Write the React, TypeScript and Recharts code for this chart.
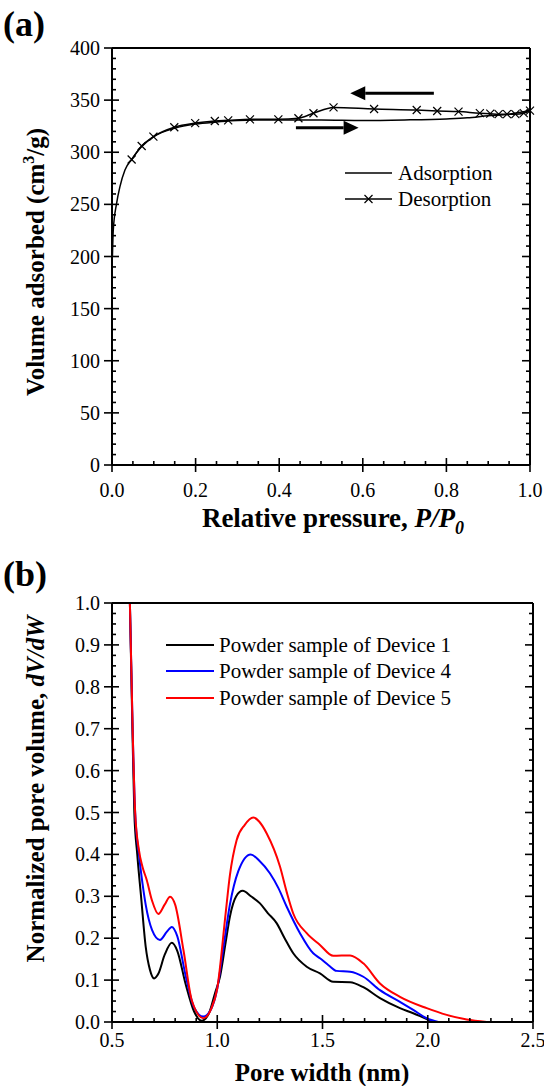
import React from 'react';
import { LineChart, Line, XAxis, YAxis, Legend, ReferenceLine } from 'recharts';

const FONT = "'Liberation Serif', 'Times New Roman', serif";

// ---- (a) N2 isotherm ----
const pressureTicks = [0, 0.2, 0.4, 0.6, 0.8, 1.0];
const volumeTicks = [0, 50, 100, 150, 200, 250, 300, 350, 400];

const adsorption = [
  { p: 0.001, v: 200 }, { p: 0.003, v: 225 }, { p: 0.011, v: 251 }, { p: 0.019, v: 267 },
  { p: 0.031, v: 283 }, { p: 0.047, v: 293 }, { p: 0.07, v: 305 }, { p: 0.1, v: 315 },
  { p: 0.15, v: 323 }, { p: 0.2, v: 327 }, { p: 0.25, v: 329 }, { p: 0.3, v: 330.5 },
  { p: 0.4, v: 331 }, { p: 0.5, v: 331 }, { p: 0.6, v: 330.5 }, { p: 0.7, v: 331 },
  { p: 0.8, v: 332 }, { p: 0.85, v: 333 }, { p: 0.9, v: 335 }, { p: 0.95, v: 336.5 },
  { p: 1.0, v: 340 },
];

const desorption = [
  { p: 0.047, v: 293 }, { p: 0.071, v: 306 }, { p: 0.099, v: 315 }, { p: 0.149, v: 324 },
  { p: 0.199, v: 328 }, { p: 0.246, v: 330 }, { p: 0.278, v: 330.6 }, { p: 0.33, v: 331.6 },
  { p: 0.398, v: 331.6 }, { p: 0.446, v: 332.6 }, { p: 0.482, v: 337.4 }, { p: 0.53, v: 343 },
  { p: 0.627, v: 341.5 }, { p: 0.729, v: 340.5 }, { p: 0.778, v: 339.6 }, { p: 0.829, v: 339 },
  { p: 0.88, v: 337.5 }, { p: 0.905, v: 337 }, { p: 0.925, v: 336.5 }, { p: 0.945, v: 336.5 },
  { p: 0.965, v: 336.5 }, { p: 0.985, v: 337.5 }, { p: 1.0, v: 340 },
];

const arrows = [
  { x1: 0.77, x2: 0.57, y: 356.5 },
  { x1: 0.44, x2: 0.59, y: 323.5 },
];

// ---- (b) pore size distribution ----
const widthTicks = [0.5, 1.0, 1.5, 2.0, 2.5];
const poreTicks = [0, 0.1, 0.2, 0.3, 0.4, 0.5, 0.6, 0.7, 0.8, 0.9, 1.0];

const device1 = [
  { w: 0.585, v: 1.0 }, { w: 0.597, v: 0.7 }, { w: 0.606, v: 0.5 }, { w: 0.62, v: 0.4 },
  { w: 0.638, v: 0.3 }, { w: 0.66, v: 0.18 }, { w: 0.68, v: 0.125 }, { w: 0.70, v: 0.104 },
  { w: 0.72, v: 0.115 }, { w: 0.75, v: 0.16 }, { w: 0.784, v: 0.189 }, { w: 0.81, v: 0.17 },
  { w: 0.85, v: 0.09 }, { w: 0.89, v: 0.025 }, { w: 0.926, v: 0.003 }, { w: 0.96, v: 0.02 },
  { w: 0.99, v: 0.07 }, { w: 1.013, v: 0.108 }, { w: 1.04, v: 0.19 }, { w: 1.06, v: 0.251 },
  { w: 1.09, v: 0.3 }, { w: 1.121, v: 0.313 }, { w: 1.16, v: 0.3 }, { w: 1.203, v: 0.283 },
  { w: 1.24, v: 0.26 }, { w: 1.282, v: 0.236 }, { w: 1.32, v: 0.2 }, { w: 1.361, v: 0.164 },
  { w: 1.425, v: 0.132 }, { w: 1.488, v: 0.116 }, { w: 1.551, v: 0.096 }, { w: 1.631, v: 0.095 },
  { w: 1.694, v: 0.083 }, { w: 1.773, v: 0.057 }, { w: 1.868, v: 0.033 }, { w: 1.931, v: 0.021 },
  { w: 1.995, v: 0.007 }, { w: 2.03, v: 0 },
];

const device4 = [
  { w: 0.585, v: 1.0 }, { w: 0.598, v: 0.7 }, { w: 0.61, v: 0.5 }, { w: 0.628, v: 0.4 },
  { w: 0.645, v: 0.33 }, { w: 0.66, v: 0.28 }, { w: 0.69, v: 0.22 }, { w: 0.728, v: 0.196 },
  { w: 0.76, v: 0.215 }, { w: 0.784, v: 0.227 }, { w: 0.81, v: 0.205 }, { w: 0.85, v: 0.11 },
  { w: 0.89, v: 0.035 }, { w: 0.934, v: 0.013 }, { w: 0.97, v: 0.03 }, { w: 1.0, v: 0.08 },
  { w: 1.03, v: 0.18 }, { w: 1.06, v: 0.28 }, { w: 1.1, v: 0.36 }, { w: 1.159, v: 0.4 },
  { w: 1.2, v: 0.385 }, { w: 1.25, v: 0.355 }, { w: 1.29, v: 0.32 }, { w: 1.33, v: 0.275 },
  { w: 1.393, v: 0.212 }, { w: 1.456, v: 0.164 }, { w: 1.488, v: 0.152 }, { w: 1.53, v: 0.135 },
  { w: 1.567, v: 0.122 }, { w: 1.631, v: 0.12 }, { w: 1.694, v: 0.108 }, { w: 1.773, v: 0.076 },
  { w: 1.868, v: 0.048 }, { w: 1.931, v: 0.029 }, { w: 1.995, v: 0.009 }, { w: 2.05, v: 0 },
];

const device5 = [
  { w: 0.585, v: 1.0 }, { w: 0.598, v: 0.7 }, { w: 0.61, v: 0.5 }, { w: 0.628, v: 0.41 },
  { w: 0.645, v: 0.37 }, { w: 0.665, v: 0.339 }, { w: 0.69, v: 0.29 }, { w: 0.72, v: 0.258 },
  { w: 0.75, v: 0.28 }, { w: 0.776, v: 0.299 }, { w: 0.8, v: 0.28 }, { w: 0.84, v: 0.17 },
  { w: 0.88, v: 0.05 }, { w: 0.934, v: 0.009 }, { w: 0.97, v: 0.03 }, { w: 1.0, v: 0.08 },
  { w: 1.04, v: 0.26 }, { w: 1.06, v: 0.35 }, { w: 1.092, v: 0.434 }, { w: 1.13, v: 0.47 },
  { w: 1.171, v: 0.488 }, { w: 1.2, v: 0.478 }, { w: 1.235, v: 0.45 }, { w: 1.298, v: 0.371 },
  { w: 1.33, v: 0.31 }, { w: 1.361, v: 0.259 }, { w: 1.425, v: 0.212 }, { w: 1.488, v: 0.184 },
  { w: 1.551, v: 0.158 }, { w: 1.631, v: 0.159 }, { w: 1.694, v: 0.14 }, { w: 1.773, v: 0.092 },
  { w: 1.868, v: 0.06 }, { w: 1.995, v: 0.033 }, { w: 2.09, v: 0.017 }, { w: 2.185, v: 0.006 },
  { w: 2.28, v: 0 },
];

const poreSeries = [
  { name: 'Powder sample of Device 1', data: device1, color: '#000000' },
  { name: 'Powder sample of Device 4', data: device4, color: '#0000ff' },
  { name: 'Powder sample of Device 5', data: device5, color: '#ff0000' },
];

// tick helpers: major ticks come from the lists above, minor ones fill between
const steps = (min: number, max: number, step: number) => {
  const n = Math.round((max - min) / step);
  return Array.from({ length: n + 1 }, (_, i) => +(min + i * step).toFixed(6));
};

type Side = 'bottom' | 'left' | 'top' | 'right';

const textStyle = { fontFamily: FONT, fontSize: 20, fill: '#000', stroke: 'none' };

const makeTick = (side: Side, majors: number[], fmt?: (v: number) => string, gap = 30) =>
  (props: any) => {
    const { x, y, payload } = props;
    const v = payload.value;
    const major = majors.some((m) => Math.abs(m - v) < 1e-6);
    let mark;
    if (side === 'bottom') mark = major ? <line x1={x} y1={y - 7} x2={x} y2={y + 7} /> : <line x1={x} y1={y} x2={x} y2={y - 4} />;
    else if (side === 'top') mark = <line x1={x} y1={y} x2={x} y2={y + (major ? 8 : 4)} />;
    else if (side === 'left') mark = major ? <line x1={x - 8} y1={y} x2={x + 7} y2={y} /> : <line x1={x} y1={y} x2={x + 4} y2={y} />;
    else mark = <line x1={x} y1={y} x2={x - (major ? 8 : 4)} y2={y} />;
    return (
      <g stroke="#000" strokeWidth={1.6}>
        {mark}
        {major && fmt && side === 'bottom' && (
          <text x={x} y={y + gap} textAnchor="middle" style={textStyle}>{fmt(v)}</text>
        )}
        {major && fmt && side === 'left' && (
          <text x={x - gap} y={y} dy="0.35em" textAnchor="end" style={textStyle}>{fmt(v)}</text>
        )}
      </g>
    );
  };

const crossDot = (props: any) => {
  const { cx, cy, index } = props;
  const s = 4;
  return (
    <path key={`x-${index}`} d={`M${cx - s},${cy - s}L${cx + s},${cy + s}M${cx - s},${cy + s}L${cx + s},${cy - s}`} stroke="#000" strokeWidth={1.2} fill="none" />
  );
};

const arrowShape = (props: any) => {
  const { x1, y1, x2, y2 } = props;
  const dir = Math.sign(x2 - x1);
  const hx = x2 - dir * 15;
  return (
    <g>
      <line x1={x1} y1={y1} x2={hx} y2={y2} stroke="#000" strokeWidth={3} />
      <polygon points={`${x2},${y2} ${hx},${y2 - 7} ${hx},${y2 + 7}`} fill="#000" />
    </g>
  );
};

const isoLegend = [
  { name: 'Adsorption', marker: false },
  { name: 'Desorption', marker: true },
];

const LegendA = () => (
  <div style={{ fontFamily: FONT, fontSize: 21, lineHeight: '26px', color: '#000' }}>
    {isoLegend.map((it) => (
      <div key={it.name} style={{ display: 'flex', alignItems: 'center', whiteSpace: 'nowrap' }}>
        <svg width={47} height={26}>
          <line x1={0} y1={13} x2={47} y2={13} stroke="#000" strokeWidth={1.5} />
          {it.marker && <path d="M19.5,9L27.5,17M19.5,17L27.5,9" stroke="#000" strokeWidth={1.2} />}
        </svg>
        <span style={{ marginLeft: 6 }}>{it.name}</span>
      </div>
    ))}
  </div>
);

const LegendB = () => (
  <div style={{ fontFamily: FONT, fontSize: 21, lineHeight: '26.3px', color: '#000' }}>
    {poreSeries.map((s) => (
      <div key={s.name} style={{ display: 'flex', alignItems: 'center', whiteSpace: 'nowrap' }}>
        <svg width={48} height={26}>
          <line x1={0} y1={13} x2={48} y2={13} stroke={s.color} strokeWidth={2} />
        </svg>
        <span style={{ marginLeft: 5 }}>{s.name}</span>
      </div>
    ))}
  </div>
);

const axisLine = { stroke: '#000', strokeWidth: 2 };
const titleStyle = { fontFamily: FONT, fontSize: 25, fontWeight: 'bold' as const, fill: '#000' };
const panelStyle = { position: 'absolute' as const, left: 3, fontFamily: FONT, fontSize: 36, fontWeight: 'bold' as const, lineHeight: '40px' };

export default function App() {
  const pMinor = steps(0, 1, 0.05);
  const vMinor = steps(0, 400, 10);
  const wMinor = steps(0.5, 2.5, 0.1);
  const dMinor = steps(0, 1, 0.025);

  return (
    <div style={{ position: 'absolute', left: 0, top: 0, width: 544, height: 1086, background: '#fff', fontFamily: FONT }}>
      <div style={{ ...panelStyle, top: 4 }}>(a)</div>
      <div style={{ ...panelStyle, top: 554 }}>(b)</div>

      <div style={{ position: 'absolute', left: 0, top: 0 }}>
        <LineChart width={544} height={555} margin={{ top: 0, right: 0, bottom: 0, left: 0 }} style={{ fontFamily: FONT }}>
          <XAxis
            dataKey="p" type="number" domain={[0, 1]} ticks={pMinor} interval={0} height={90}
            axisLine={axisLine} tickLine={false} tickSize={0} tickMargin={0}
            tick={makeTick('bottom', pressureTicks, (v) => v.toFixed(1), 32)}
            label={{
              content: () => (
                <text x={333} y={527} textAnchor="middle" style={{ ...titleStyle, fontSize: 27 }}>
                  Relative pressure, <tspan fontStyle="italic">P/P</tspan>
                  <tspan fontStyle="italic" fontSize={18} dy={7}>0</tspan>
                </text>
              ),
            }}
          />
          <XAxis xAxisId="top" orientation="top" dataKey="p" type="number" domain={[0, 1]} ticks={pMinor} interval={0} height={48}
            axisLine={axisLine} tickLine={false} tickSize={0} tickMargin={0} tick={makeTick('top', pressureTicks)} />
          <YAxis
            type="number" domain={[0, 400]} ticks={vMinor} interval={0} width={112} allowDataOverflow
            axisLine={axisLine} tickLine={false} tickSize={0} tickMargin={0}
            tick={makeTick('left', volumeTicks, (v) => String(v), 12)}
            label={{
              content: () => (
                <text x={44} y={262} transform="rotate(-90, 44, 262)" textAnchor="middle" style={titleStyle}>
                  Volume adsorbed (cm<tspan fontSize={16} dy={-10}>3</tspan><tspan dy={10}>/g)</tspan>
                </text>
              ),
            }}
          />
          <YAxis yAxisId="right" orientation="right" type="number" domain={[0, 400]} ticks={vMinor} interval={0} width={14} allowDataOverflow
            axisLine={axisLine} tickLine={false} tickSize={0} tickMargin={0} tick={makeTick('right', volumeTicks)} />
          {arrows.map((a, i) => (
            <ReferenceLine key={i} segment={[{ x: a.x1, y: a.y }, { x: a.x2, y: a.y }]} shape={arrowShape} ifOverflow="visible" />
          ))}
          <Line data={adsorption} dataKey="v" name="Adsorption" type="monotone" stroke="#000" strokeWidth={1.5} dot={false} isAnimationActive={false} />
          <Line data={desorption} dataKey="v" name="Desorption" type="monotone" stroke="#000" strokeWidth={1.5} dot={crossDot} isAnimationActive={false} />
          <Legend layout="vertical" align="center" verticalAlign="middle" content={() => <LegendA />}
            wrapperStyle={{ top: 160, left: 345, width: 'auto', height: 'auto' }} />
        </LineChart>
      </div>

      <div style={{ position: 'absolute', left: 0, top: 555 }}>
        <LineChart width={544} height={531} margin={{ top: 0, right: 0, bottom: 0, left: 0 }} style={{ fontFamily: FONT }}>
          <XAxis
            dataKey="w" type="number" domain={[0.5, 2.5]} ticks={wMinor} interval={0} height={64} allowDataOverflow
            axisLine={axisLine} tickLine={false} tickSize={0} tickMargin={0}
            tick={makeTick('bottom', widthTicks, (v) => v.toFixed(1), 25)}
            label={{
              content: () => (
                <text x={322} y={526} textAnchor="middle" style={titleStyle}>
                  Pore width (nm)
                </text>
              ),
            }}
          />
          <XAxis xAxisId="top" orientation="top" dataKey="w" type="number" domain={[0.5, 2.5]} ticks={wMinor} interval={0} height={48}
            axisLine={axisLine} tickLine={false} tickSize={0} tickMargin={0} tick={makeTick('top', widthTicks)} />
          <YAxis
            type="number" domain={[0, 1]} ticks={dMinor} interval={0} width={112} allowDataOverflow
            axisLine={axisLine} tickLine={false} tickSize={0} tickMargin={0}
            tick={makeTick('left', poreTicks, (v) => v.toFixed(1), 12)}
            label={{
              content: () => (
                <text x={44} y={234} transform="rotate(-90, 44, 234)" textAnchor="middle" style={titleStyle}>
                  Normalized pore volume, <tspan fontStyle="italic">dV/dW</tspan>
                </text>
              ),
            }}
          />
          <YAxis yAxisId="right" orientation="right" type="number" domain={[0, 1]} ticks={dMinor} interval={0} width={11} allowDataOverflow
            axisLine={axisLine} tickLine={false} tickSize={0} tickMargin={0} tick={makeTick('right', poreTicks)} />
          {poreSeries.map((s) => (
            <Line key={s.name} data={s.data} dataKey="v" name={s.name} type="monotone" stroke={s.color} strokeWidth={2} dot={false} isAnimationActive={false} />
          ))}
          <Legend layout="vertical" align="center" verticalAlign="middle" content={() => <LegendB />}
            wrapperStyle={{ top: 77, left: 166, width: 'auto', height: 'auto' }} />
        </LineChart>
      </div>
    </div>
  );
}
